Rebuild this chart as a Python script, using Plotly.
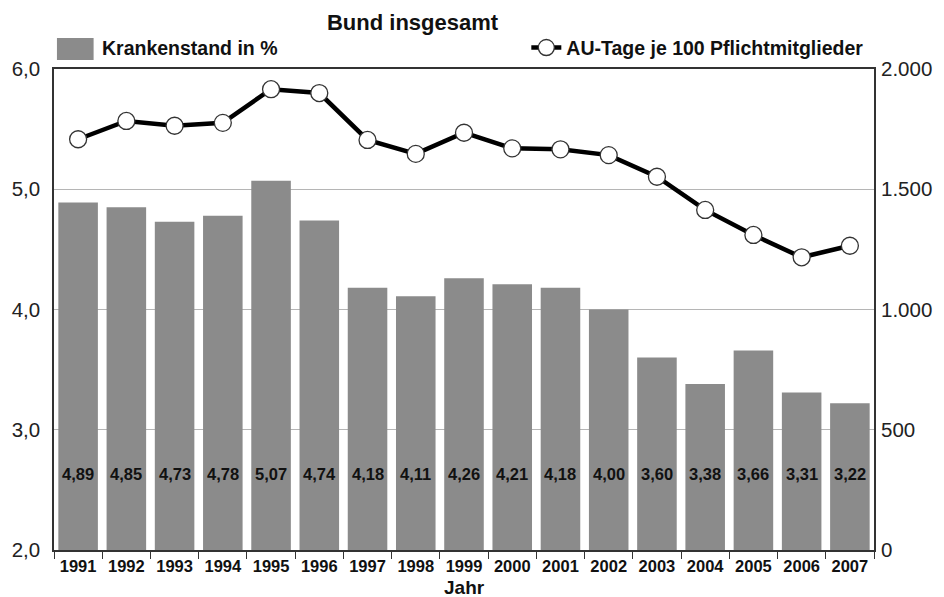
import plotly.graph_objects as go

# Data
years = [str(y) for y in range(1991, 2008)]
krankenstand = [4.89, 4.85, 4.73, 4.78, 5.07, 4.74, 4.18, 4.11, 4.26, 4.21,
                4.18, 4.00, 3.60, 3.38, 3.66, 3.31, 3.22]
au_tage = [1708, 1784, 1764, 1776, 1916, 1900, 1705, 1647, 1735, 1670,
           1666, 1642, 1552, 1414, 1310, 1217, 1265]

left_ticks = [2, 3, 4, 5, 6]
left_labels = ["2,0", "3,0", "4,0", "5,0", "6,0"]
right_ticks = [0, 500, 1000, 1500, 2000]
right_labels = ["0", "500", "1.000", "1.500", "2.000"]

FONT = "Liberation Sans Narrow, Arial Narrow, Liberation Sans, Arial, sans-serif"
TEXT = "#111111"
BAR = "#8b8b8b"

fig = go.Figure()

fig.add_trace(go.Bar(
    x=years, y=[v - 2 for v in krankenstand], base=2,
    name="Krankenstand in %",
    marker=dict(color=BAR, line=dict(width=0)),
    showlegend=False,
    hoverinfo="skip",
))

fig.add_trace(go.Scatter(
    x=years, y=au_tage, yaxis="y2",
    mode="lines+markers",
    name="AU-Tage je 100 Pflichtmitglieder",
    line=dict(color="black", width=4.5),
    marker=dict(symbol="circle", size=17, color="white",
                line=dict(color="#333333", width=1.3)),
    legend="legend2",
    hoverinfo="skip",
))

# Value labels inside the bars (category positions by index)
annotations = []
for i, v in enumerate(krankenstand):
    annotations.append(dict(
        x=i, y=2.63, xref="x", yref="y",
        text=f"{v:.2f}".replace(".", ","), showarrow=False,
        font=dict(family=FONT, size=16.5, color=TEXT, weight="bold"),
    ))

# Axis title below the year labels
annotations.append(dict(
    x=0.5, y=-0.077, xref="paper", yref="paper", yanchor="middle",
    text="Jahr", showarrow=False,
    font=dict(family=FONT, size=19, color=TEXT, weight="bold"),
))

# Legend entry for the bars (key + label)
annotations.append(dict(
    x=0.0556, y=1.044, xref="paper", yref="paper",
    xanchor="left", yanchor="middle",
    text="Krankenstand in %", showarrow=False,
    font=dict(family=FONT, size=19.5, color=TEXT, weight="bold"),
))
shapes = [dict(
    type="rect", xref="paper", yref="paper",
    x0=0.0036, x1=0.0483, y0=1.0187, y1=1.0644,
    fillcolor=BAR, line=dict(width=0), layer="above",
)]

fig.update_layout(
    width=944, height=597,
    margin=dict(l=52, r=64, t=69, b=47),
    paper_bgcolor="white", plot_bgcolor="white",
    title=dict(text="<b>Bund insgesamt</b>", x=0.437, xanchor="center",
               y=0.963, yanchor="middle",
               font=dict(family=FONT, size=22, color=TEXT)),
    bargap=0.18,
    showlegend=True,
    legend2=dict(x=0.576, y=1.044, xanchor="left", yanchor="middle",
                 bgcolor="rgba(0,0,0,0)",
                 font=dict(family=FONT, size=19.5, color=TEXT, weight="bold")),
    xaxis=dict(
        type="category", range=[-0.5, len(years) - 0.5], autorange=False,
        showgrid=False,
        showline=True, linecolor="#333333", linewidth=1.5, mirror=True,
        ticks="outside", tickson="boundaries", ticklen=7, tickcolor="#333333",
        tickfont=dict(family=FONT, size=16.5, color=TEXT, weight="bold"),
    ),
    yaxis=dict(
        range=[2, 6], tickvals=left_ticks, ticktext=left_labels,
        showgrid=True, gridcolor="#b5b5b5", gridwidth=1,
        showline=True, linecolor="#333333", linewidth=1.5, mirror=True,
        ticks="", ticklabelstandoff=8,
        tickfont=dict(family=FONT, size=20.5, color="#222222"),
        zeroline=False,
    ),
    yaxis2=dict(
        range=[0, 2000], tickvals=right_ticks, ticktext=right_labels,
        overlaying="y", side="right", showgrid=False, zeroline=False,
        ticks="", ticklabelstandoff=6,
        tickfont=dict(family=FONT, size=20.5, color="#222222"),
    ),
    annotations=annotations,
    shapes=shapes,
)

fig.write_html("out.html")
